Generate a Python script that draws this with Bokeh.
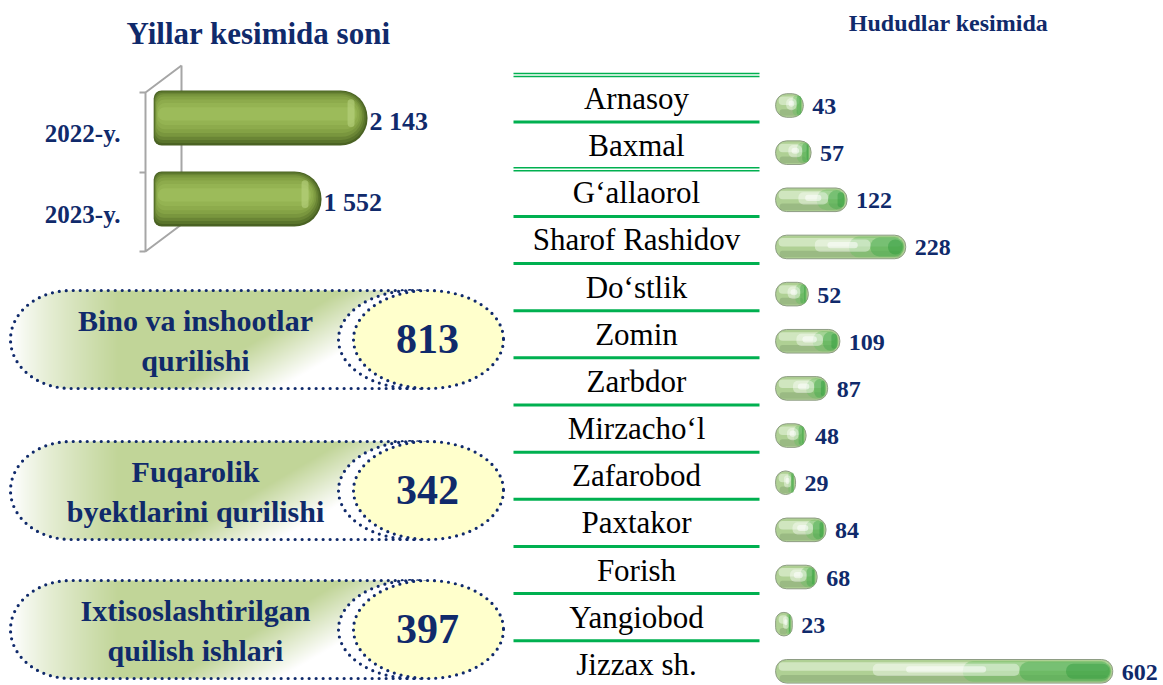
import numpy as np
from bokeh.plotting import figure
from bokeh.models import Range1d
from bokeh.core.properties import value
from bokeh.embed import file_html
from bokeh.resources import INLINE

# ---------------- data ----------------
title_left = "Yillar kesimida soni"
title_right = "Hududlar kesimida"
years = ["2022-y.", "2023-y."]
year_values = [2143, 1552]
categories = ["Bino va inshootlar\nqurilishi",
              "Fuqarolik\nbyektlarini qurilishi",
              "Ixtisoslashtirilgan\nquilish ishlari"]
category_values = [813, 342, 397]
regions = ["Arnasoy", "Baxmal", "G\u2018allaorol", "Sharof Rashidov", "Do\u2018stlik",
           "Zomin", "Zarbdor", "Mirzacho\u2018l", "Zafarobod", "Paxtakor",
           "Forish", "Yangiobod", "Jizzax sh."]
region_values = [43, 57, 122, 228, 52, 109, 87, 48, 29, 84, 68, 23, 602]

# ---------------- styles / layout ----------------
NAVY = "#102A6B"
SERIF = value("Liberation Serif")
GREEN_LINE = "#00B050"
W, H = 1163, 685
X0, X1 = 0, 1163          # frame expressed in reference pixel units
Y0, Y1 = 0, 685

p = figure(width=W, height=H, x_range=Range1d(X0, X1), y_range=Range1d(-Y1, -Y0),
           output_backend="svg", toolbar_location=None, min_border=0,
           x_axis_location=None, y_axis_location=None)
p.grid.visible = False
p.outline_line_color = None
p.background_fill_color = "white"


def lin_range(lo, hi, ref0, step):
    return Range1d(start=(lo - ref0) / step, end=(hi - ref0) / step)


# year chart scales
YR_X0, YR_PX = 200.2, 0.07785      # value -> ref x
YR_Y0, YR_STEP = 117.5, 81.0       # index -> ref y (downwards)
YEAR_AXIS_MIN = -604
# region chart scales
RG_X0, RG_PX = 779.0, 0.5535
RG_Y0, RG_STEP = 105.0, 47.15
REG_AXIS_MIN = -7

p.extra_x_ranges = {"yr": lin_range(X0, X1, YR_X0, YR_PX),
                    "rg": lin_range(X0, X1, RG_X0, RG_PX)}
p.extra_y_ranges = {"yr": Range1d(start=(Y1 - YR_Y0) / YR_STEP, end=(Y0 - YR_Y0) / YR_STEP),
                    "rg": Range1d(start=(Y1 - RG_Y0) / RG_STEP, end=(Y0 - RG_Y0) / RG_STEP)}

# ---------------- titles ----------------
p.text(x=[258], y=[-33], text=[title_left], text_font=SERIF, text_font_style="bold",
       text_font_size="31px", text_color=NAVY, text_align="center", text_baseline="middle")
p.text(x=[948], y=[-22], text=[title_right], text_font=SERIF, text_font_style="bold",
       text_font_size="24px", text_color=NAVY, text_align="center", text_baseline="middle")

# ---------------- year chart frame ----------------
GRAY = "#A6A6A6"
p.line(x=[181, 181], y=[-65, -224], line_color=GRAY, line_width=2)
p.line(x=[181, 145, 145, 181], y=[-65, -92, -251, -224], line_color=GRAY, line_width=2)
p.segment(x0=[139, 139, 139], x1=[145, 145, 145], y0=[-92, -172, -251], y1=[-92, -172, -251],
          line_color=GRAY, line_width=2)

# ---------------- year bars (cylinders) ----------------
yi = np.arange(len(years))
yv = np.array(year_values, dtype=float)
bar_h = 0.68
yr_layers = [  # height fraction, colour, vertical shift
    (1.00, "#4A6223", 0.000),
    (0.94, "#5A752C", -0.010),
    (0.86, "#6A8535", -0.020),
    (0.77, "#79963E", -0.030),
    (0.66, "#84A245", -0.040),
    (0.54, "#8DAB4C", -0.045),
    (0.40, "#94B352", -0.050),
    (0.24, "#9CBB5A", -0.050),
]
for k, (frac, col, dy) in enumerate(yr_layers):
    h = bar_h * frac
    hpx = h * YR_STEP
    rr = int(hpx / 2)
    p.hbar(y=yi + dy, left=YEAR_AXIS_MIN + k * 0.6 / YR_PX, right=yv - k * 1.7 / YR_PX, height=h,
           fill_color=col, line_color=None, border_radius=(8, rr, rr, 8),
           x_range_name="yr", y_range_name="yr")
# highlight on the end caps
p.hbar(y=yi - 0.06, left=yv - 20 / YR_PX, right=yv - 13 / YR_PX, height=0.34,
       fill_color="#BCD584", fill_alpha=0.55, line_color=None, border_radius=4,
       x_range_name="yr", y_range_name="yr")

p.text(x=[120] * len(years), y=yi, text=years, y_range_name="yr", y_offset=15,
       text_font=SERIF, text_font_style="bold", text_font_size="25px", text_color=NAVY,
       text_align="right", text_baseline="middle")
p.text(x=yv, y=yi, text=[f"{v:,}".replace(",", " ") for v in year_values],
       x_range_name="yr", y_range_name="yr", x_offset=2, y_offset=3,
       text_font=SERIF, text_font_style="bold", text_font_size="26px", text_color=NAVY,
       text_align="left", text_baseline="middle")

# ---------------- category pills ----------------
pill_cy = [339, 490, 629]
PX0, PX1, PH, PRX = 10, 470, 98, 60


def stadium(x0, x1, cy, h, rx, n=60):
    ry = h / 2
    a1 = np.linspace(-np.pi / 2, np.pi / 2, n)
    a2 = np.linspace(np.pi / 2, 3 * np.pi / 2, n)
    xs = np.concatenate([x1 - rx + rx * np.cos(a1), x0 + rx + rx * np.cos(a2)])
    ys = np.concatenate([cy + ry * np.sin(a1), cy + ry * np.sin(a2)])
    return xs, -ys


def pill_image(w, h, rx):
    ry = h / 2
    xs = np.arange(w) + 0.5
    ys = np.arange(h) + 0.5
    X, Y = np.meshgrid(xs, ys)
    inside = ((X >= rx) & (X <= w - rx)) | \
             (((X - rx) / rx) ** 2 + ((Y - ry) / ry) ** 2 <= 1) | \
             (((X - (w - rx)) / rx) ** 2 + ((Y - ry) / ry) ** 2 <= 1)
    t_left = np.clip((X - 4) / 105, 0, 1) ** 0.8
    d = (X - 255) / 105 + (Y / h - 0.45) * 1.6
    fade = np.clip(d, 0, 1)
    t = t_left * (1 - fade)
    g = np.array([193, 213, 152], dtype=float)
    wcol = np.array([255, 255, 255], dtype=float)
    rgb = wcol[None, None, :] * (1 - t[..., None]) + g[None, None, :] * t[..., None]
    arr = np.zeros((h, w, 4), dtype=np.uint8)
    arr[..., :3] = rgb.astype(np.uint8)
    arr[..., 3] = np.where(inside, 255, 0)
    arr = np.ascontiguousarray(np.flipud(arr))
    return arr.view(np.uint32).reshape(h, w)


img = pill_image(PX1 - PX0, PH, PRX)
DOT = dict(line_color=NAVY, line_width=3.2, line_dash="0 7", line_cap="round")
for cy, lab, num in zip(pill_cy, categories, category_values):
    p.image_rgba(image=[img], x=PX0, y=-(cy + PH / 2), dw=PX1 - PX0, dh=PH)
    sx, sy = stadium(PX0, PX1, cy, PH, PRX)
    p.patch(x=sx, y=sy, fill_color=None, **DOT)
    p.ellipse(x=[413], y=[-cy], width=150, height=PH, fill_color="white", **DOT)
    p.ellipse(x=[428], y=[-cy], width=150, height=PH, fill_color="#FFFFCC", **DOT)
    p.text(x=[195], y=[-(cy + 1)], text=[lab], text_font=SERIF, text_font_style="bold",
           text_font_size="30px", text_color=NAVY, text_align="center",
           text_baseline="middle", text_line_height=1.2)
    p.text(x=[427], y=[-(cy - 1)], text=[str(num)], text_font=SERIF, text_font_style="bold",
           text_font_size="42px", text_color=NAVY, text_align="center", text_baseline="middle")

# ---------------- region table ----------------
ri = np.arange(len(regions))
rv = np.array(region_values, dtype=float)
gap = 0.5 - 7 / RG_STEP            # row boundary relative to bar centre
single = [i for i in ri[:-1] if i != 1]
p.segment(x0=[513] * len(single), x1=[759] * len(single),
          y0=[i + gap for i in single], y1=[i + gap for i in single],
          y_range_name="rg", line_color=GREEN_LINE, line_width=3)
dbl = [-1, 1]
for off in (-1.5, 1.5):
    p.segment(x0=[513] * 2, x1=[759] * 2,
              y0=[i + gap + off / RG_STEP for i in dbl], y1=[i + gap + off / RG_STEP for i in dbl],
              y_range_name="rg", line_color=GREEN_LINE, line_width=1.6)

p.text(x=[636] * len(regions), y=ri, text=regions, y_range_name="rg", y_offset=-7,
       text_font=SERIF, text_font_size="31px", text_color="black",
       text_align="center", text_baseline="middle")

# region bars
rh = 0.5
kw = dict(x_range_name="rg", y_range_name="rg", line_color=None)
p.hbar(y=ri, left=REG_AXIS_MIN, right=rv, height=rh, fill_color="#AFD094",
       line_color="#8E9D84", line_width=1, border_radius=11,
       x_range_name="rg", y_range_name="rg")
p.hbar(y=ri + 0.15, left=REG_AXIS_MIN + 4 / RG_PX, right=rv - 5 / RG_PX, height=0.14,
       fill_color="#819F6E", fill_alpha=0.45, border_radius=3, **kw)
p.hbar(y=ri - 0.1, left=REG_AXIS_MIN + 3 / RG_PX, right=rv - 4 / RG_PX, height=0.18,
       fill_color="#D8EBC9", fill_alpha=0.8, border_radius=4, **kw)
p.hbar(y=ri, left=rv * 0.55, right=rv - 1.5 / RG_PX, height=0.44,
       fill_color="#6DBE62", fill_alpha=0.45, border_radius=10, **kw)
p.hbar(y=ri, left=rv * 0.72, right=rv - 2 / RG_PX, height=0.4,
       fill_color="#43A94A", fill_alpha=0.45, border_radius=9, **kw)
p.hbar(y=ri, left=rv * 0.86, right=rv - 3 / RG_PX, height=0.32,
       fill_color="#2E9B3C", fill_alpha=0.45, border_radius=7, **kw)
p.hbar(y=ri - 0.03, left=rv * 0.28, right=rv * 0.72, height=0.26,
       fill_color="white", fill_alpha=0.4, border_radius=5, **kw)
p.hbar(y=ri - 0.04, left=rv * 0.38, right=rv * 0.62, height=0.13,
       fill_color="white", fill_alpha=0.55, border_radius=3, **kw)

p.text(x=rv, y=ri, text=[str(v) for v in region_values], x_range_name="rg", y_range_name="rg",
       x_offset=9, y_offset=1, text_font=SERIF, text_font_style="bold", text_font_size="24px",
       text_color=NAVY, text_align="left", text_baseline="middle")

open("out.html", "w").write(file_html(p, INLINE))
